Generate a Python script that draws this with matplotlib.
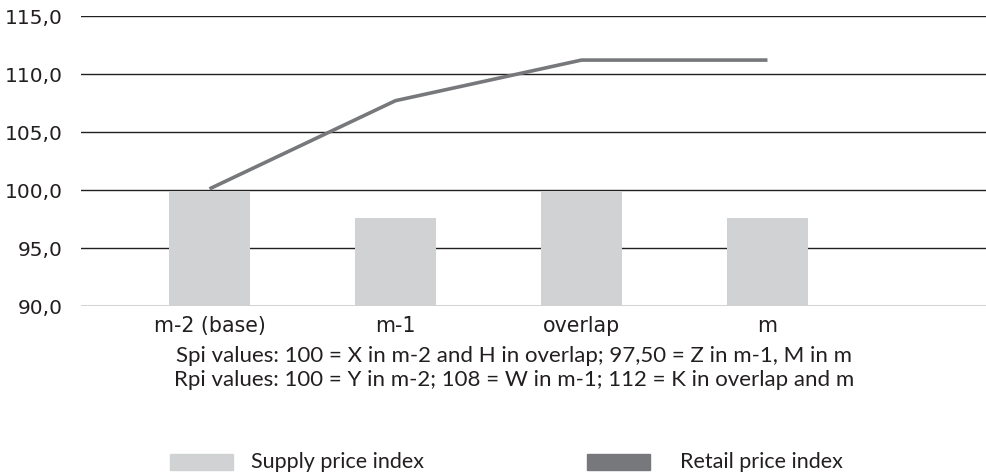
import matplotlib
matplotlib.use("Agg")
import matplotlib.pyplot as plt
from matplotlib.patches import Rectangle

categories = ["m-2 (base)", "m-1", "overlap", "m"]
supply_index = [99.95, 97.6, 99.95, 97.6]
retail_index = [100.1, 107.7, 111.2, 111.2]
y_ticks = [90, 95, 100, 105, 110, 115]
y_tick_labels = ["90,0", "95,0", "100,0", "105,0", "110,0", "115,0"]
note_lines = [
    "Spi values: 100 = X in m-2 and H in overlap; 97,50 = Z in m-1, M in m",
    "Rpi values: 100 = Y in m-2; 108 = W in m-1; 112 = K in overlap and m",
]
legend_labels = ["Supply price index", "Retail price index"]

bar_color = "#d1d2d4"
line_color = "#77787b"
grid_color = "#231f20"
text_color = "#231f20"

plt.rcParams['font.family'] = ['Lato', 'DejaVu Sans']

W, H = 986, 475
fig = plt.figure(figsize=(W/100, H/100), dpi=100)
ax = fig.add_axes([81/W, 1-306/H, 1-81/W, (306-16)/H])

x = list(range(len(categories)))
ax.set_ylim(90, 115)
ax.set_xlim(-0.691, 4.175)
for t in y_ticks:
    ax.axhline(t, color=grid_color, lw=1.0, zorder=1)
ax.bar(x, [v - 90 for v in supply_index], bottom=90, width=0.435,
       color=bar_color, zorder=2)
ax.plot(x, retail_index, color=line_color, lw=2.6, zorder=3,
        solid_capstyle='butt')

for s in ax.spines.values():
    s.set_visible(False)
ax.set_yticks(y_ticks)
ax.set_yticklabels(y_tick_labels, fontsize=14.5, color=text_color,
                   family=['DejaVu Sans'])
ax.tick_params(axis='y', length=0, pad=13)
ax.set_xticks(x)
ax.set_xticklabels(categories, fontsize=14.8, color=text_color,
                   family=['DejaVu Sans'])
ax.tick_params(axis='x', length=0, pad=7)

fig.text(514/W, 1-356/H, note_lines[0], ha='center', va='center',
         fontsize=16, color=text_color)
fig.text(514/W, 1-380/H, note_lines[1], ha='center', va='center',
         fontsize=16, color=text_color)

# legend drawn manually
swatches = [(170, bar_color, 251), (587, line_color, 680)]
for (sx, col, tx), lab in zip(swatches, legend_labels):
    fig.patches.append(Rectangle((sx/W, 1-470/H), 63/W, 16/H,
                                 transform=fig.transFigure, color=col))
    fig.text(tx/W, 1-462/H, lab, ha='left', va='center', fontsize=15.5,
             color=text_color)

fig.savefig("out.png", dpi=100)
